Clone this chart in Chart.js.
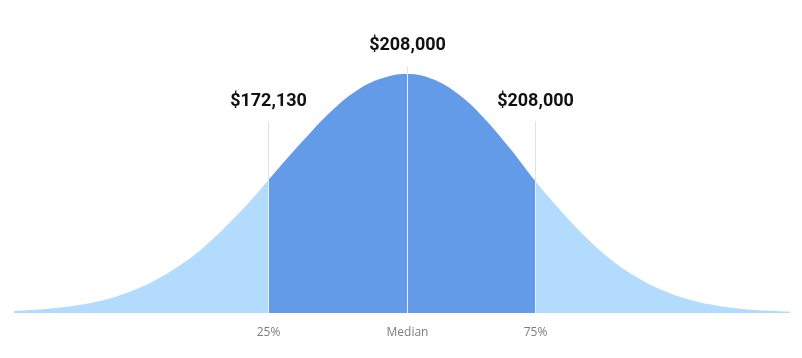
<!DOCTYPE html>
<html>
<head>
<meta charset="utf-8">
<script src="https://cdn.jsdelivr.net/npm/chart.js@4/dist/chart.umd.min.js"></script>
<style>
  html, body { margin: 0; padding: 0; background: #ffffff; }
  #wrap { width: 802px; height: 358px; position: relative; }
</style>
</head>
<body>
<div id="wrap"><canvas id="c"></canvas></div>
<script>
// Distribution curve (position in spread units, relative height 0-100)
const curveX = [-3.07, -2.8, -2.6, -2.4, -2.2, -2.0, -1.8, -1.6, -1.4, -1.2, -1.09, -1.0, -0.8, -0.6, -0.4, -0.2, 0, 0.2, 0.4, 0.6, 0.8, 1.0, 1.2, 1.4, 1.6, 1.8, 2.0, 2.2, 2.4, 2.6, 2.8, 2.99];
const curveY = [0.8, 1.8, 3.0, 5.0, 8.3, 12.8, 19.0, 27.0, 37.0, 48.3, 55.2, 60.8, 72.8, 84.0, 92.8, 98.1, 100, 97.8, 91.5, 81.5, 69.0, 55.2, 42.8, 31.5, 22.0, 14.8, 9.4, 5.6, 3.2, 1.8, 1.0, 0.5];

// Markers
const markerX = [-1.09, 0, 1.00];
const markerTicks = ['25%', 'Median', '75%'];
const markerValues = ['$172,130', '$208,000', '$208,000'];

const fullCurve = curveX.map((x, i) => ({ x: x, y: curveY[i] }));

// The inner (dark) dataset is drawn after the outer one; clip it to the 25%-75% band.
const clipPlugin = {
  id: 'midClip',
  afterDatasetDraw(chart, args) {
    const ctx = chart.ctx;
    if (args.index === 1) {
      const xs = chart.scales.x;
      const a = Math.round(xs.getPixelForValue(markerX[0]));
      const b = Math.round(xs.getPixelForValue(markerX[2])) + 1;
      ctx.save();
      ctx.beginPath();
      ctx.rect(a, 0, b - a, chart.height);
      ctx.clip();
    } else if (args.index === 0) {
      ctx.restore();
    }
  }
};

const markerPlugin = {
  id: 'markers',
  afterDatasetsDraw(chart) {
    const ctx = chart.ctx;
    const xs = chart.scales.x, ys = chart.scales.y;
    const base = ys.getPixelForValue(0);
    const lineTop = [121.5, 66.5, 121.5];
    const labelY = [101, 45, 101];
    markerX.forEach((mx, i) => {
      const px = Math.round(xs.getPixelForValue(mx)) + 0.5;
      const idx = curveX.indexOf(mx);
      const cy = ys.getPixelForValue(curveY[idx]);
      ctx.save();
      ctx.lineWidth = 1;
      ctx.strokeStyle = '#e2e2e2';
      ctx.beginPath(); ctx.moveTo(px, lineTop[i]); ctx.lineTo(px, cy); ctx.stroke();
      ctx.strokeStyle = 'rgba(255,255,255,0.85)';
      ctx.beginPath(); ctx.moveTo(px, cy); ctx.lineTo(px, base); ctx.stroke();
      ctx.fillStyle = '#111111';
      ctx.font = 'bold 18px Roboto';
      ctx.textAlign = 'center';
      ctx.textBaseline = 'middle';
      ctx.fillText(markerValues[i], px, labelY[i]);
      ctx.fillStyle = '#7c7c7c';
      ctx.font = '12px "Open Sans"';
      ctx.fillText(markerTicks[i], px, 333);
      ctx.restore();
    });
  }
};

new Chart(document.getElementById('c'), {
  type: 'line',
  data: {
    datasets: [
      {
        data: fullCurve,
        backgroundColor: '#639be9',
        borderWidth: 0,
        pointRadius: 0,
        fill: 'origin',
        tension: 0.4,
        order: 1
      },
      {
        data: fullCurve,
        backgroundColor: '#b3dbfe',
        borderWidth: 0,
        pointRadius: 0,
        fill: 'origin',
        tension: 0.4,
        order: 2
      }
    ]
  },
  options: {
    responsive: true,
    maintainAspectRatio: false,
    animation: false,
    layout: { padding: { left: 14, right: 12, top: 74, bottom: 45 } },
    plugins: { legend: { display: false }, tooltip: { enabled: false } },
    scales: {
      x: { type: 'linear', min: -3.07, max: 2.99, display: false },
      y: { min: 0, max: 100, display: false }
    }
  },
  plugins: [clipPlugin, markerPlugin]
});
</script>
</body>
</html>
